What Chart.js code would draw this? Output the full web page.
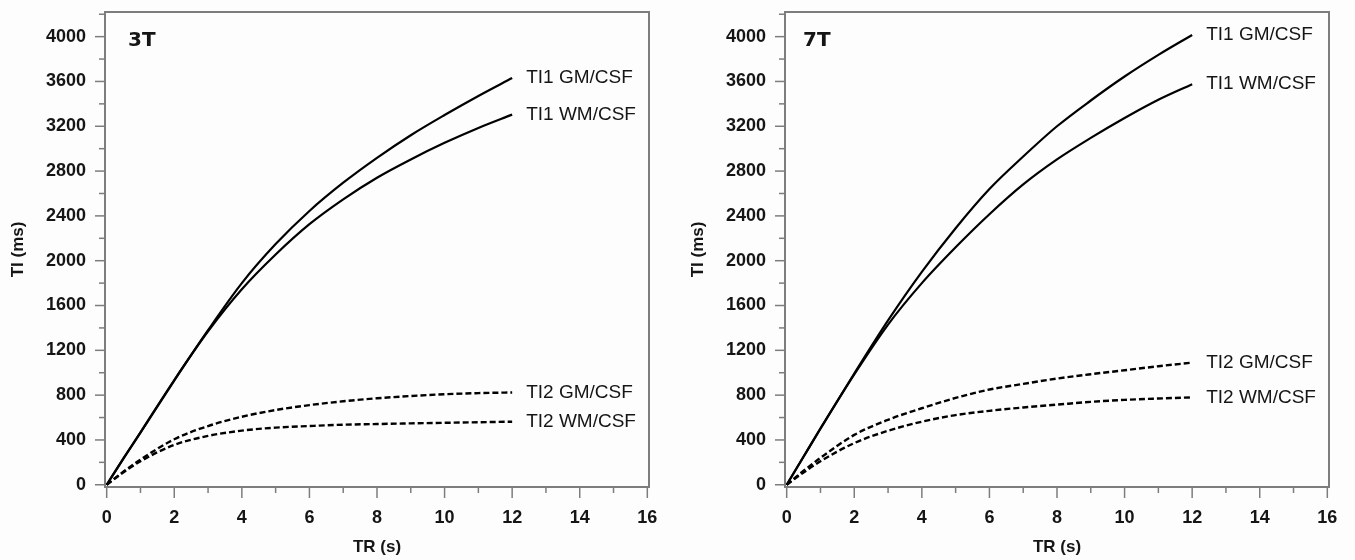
<!DOCTYPE html>
<html>
<head>
<meta charset="utf-8">
<script src="https://cdn.jsdelivr.net/npm/chart.js@4.4.0/dist/chart.umd.min.js"></script>
<style>
  body { margin: 0; background: #fff; }
  #wrap { position: relative; width: 1355px; height: 560px; background: #fdfdfd; }
  canvas { position: absolute; top: 0; }
</style>
</head>
<body>
<div id="wrap">
  <canvas id="chart3T" width="677" height="560" style="left:0"></canvas>
  <canvas id="chart7T" width="675" height="560" style="left:680px"></canvas>
</div>
<script>
// TR (s) sample points
const trValues = [0, 0.5, 1, 2, 3, 4, 5, 6, 7, 8, 9, 10, 11, 12];

// 3T curves, TI in ms
const ti1Gm3T = [0, 235, 465, 930, 1380, 1800, 2148, 2444, 2696, 2918, 3120, 3300, 3470, 3630];
const ti1Wm3T = [0, 238, 468, 935, 1370, 1745, 2055, 2326, 2548, 2741, 2904, 3052, 3185, 3304];
const ti2Gm3T = [0, 118, 225, 406, 524, 607, 667, 711, 745, 772, 792, 808, 818, 824];
const ti2Wm3T = [0, 112, 210, 356, 436, 483, 510, 524, 536, 542, 548, 553, 558, 563];

// 7T curves, TI in ms
const ti1Gm7T = [0, 252, 504, 993, 1467, 1900, 2290, 2640, 2930, 3200, 3430, 3644, 3837, 4015];
const ti1Wm7T = [0, 250, 500, 985, 1430, 1800, 2120, 2415, 2681, 2904, 3096, 3274, 3437, 3576];
const ti2Gm7T = [0, 125, 240, 445, 580, 683, 775, 850, 900, 948, 987, 1022, 1058, 1090];
const ti2Wm7T = [0, 110, 210, 372, 482, 563, 622, 660, 690, 715, 740, 758, 770, 780];

const seriesNames = ['TI1 GM/CSF', 'TI1 WM/CSF', 'TI2 GM/CSF', 'TI2 WM/CSF'];

// tick positions (every value gets a mark, labelled ones are the major ticks)
const xTickValues = [0, 1, 2, 3, 4, 5, 6, 7, 8, 9, 10, 11, 12, 13, 14, 15, 16];
const xTickLabels = ['0', '2', '4', '6', '8', '10', '12', '14', '16'];
const yTickValues = [0, 200, 400, 600, 800, 1000, 1200, 1400, 1600, 1800, 2000, 2200,
  2400, 2600, 2800, 3000, 3200, 3400, 3600, 3800, 4000, 4200];
const yTickLabels = ['0', '400', '800', '1200', '1600', '2000', '2400', '2800', '3200', '3600', '4000'];

const frameColor = '#7d7d7d';
const textColor = '#151515';
const font = '"Liberation Sans", Arial, sans-serif';

const isMajor = (labels, v) => labels.includes(String(v));

// frame + major/minor tick marks
const frameTicks = {
  id: 'frameTicks',
  afterDraw(chart) {
    const { ctx, chartArea: a, scales: { x, y } } = chart;
    ctx.save();
    ctx.strokeStyle = frameColor;
    ctx.lineWidth = 1.5;
    x.ticks.forEach(t => {
      const px = x.getPixelForValue(t.value);
      const len = isMajor(xTickLabels, t.value) ? 11 : 6;
      ctx.beginPath(); ctx.moveTo(px, a.bottom); ctx.lineTo(px, a.bottom + len); ctx.stroke();
    });
    y.ticks.forEach(t => {
      const py = y.getPixelForValue(t.value);
      const len = isMajor(yTickLabels, t.value) ? 10 : 6;
      ctx.beginPath(); ctx.moveTo(a.left, py); ctx.lineTo(a.left - len, py); ctx.stroke();
    });
    ctx.lineWidth = 2;
    ctx.strokeRect(a.left, a.top, a.right - a.left, a.bottom - a.top);
    ctx.restore();
  }
};

// curve names at the end of each line, plus panel tag
const endLabels = {
  id: 'endLabels',
  afterDatasetsDraw(chart, args, opts) {
    const { ctx, chartArea: a } = chart;
    ctx.save();
    ctx.fillStyle = textColor;
    ctx.textBaseline = 'middle';
    ctx.font = '19px ' + font;
    chart.data.datasets.forEach((ds, i) => {
      const pts = chart.getDatasetMeta(i).data;
      const last = pts[pts.length - 1];
      ctx.fillText(ds.label, last.x + 14, last.y);
    });
    ctx.font = 'bold 20px "DejaVu Sans", sans-serif';
    ctx.fillText(opts.tag, a.left + opts.tagDx, a.top + 29);
    ctx.restore();
  }
};

function makePanel(id, tag, tagDx, gm1, wm1, gm2, wm2, padRight) {
  const solid = { borderColor: '#000', borderWidth: 2.2, pointRadius: 0, cubicInterpolationMode: 'monotone', fill: false };
  const dashed = Object.assign({}, solid, { borderDash: [6, 3], borderWidth: 2.4 });
  return new Chart(document.getElementById(id), {
    type: 'line',
    data: {
      labels: trValues,
      datasets: [
        Object.assign({ label: seriesNames[0], data: gm1 }, solid),
        Object.assign({ label: seriesNames[1], data: wm1 }, solid),
        Object.assign({ label: seriesNames[2], data: gm2 }, dashed),
        Object.assign({ label: seriesNames[3], data: wm2 }, dashed)
      ]
    },
    options: {
      responsive: false,
      animation: false,
      devicePixelRatio: 1,
      layout: { padding: { top: 12, right: padRight, left: 0, bottom: 0 } },
      plugins: {
        legend: { display: false },
        tooltip: { enabled: false },
        endLabels: { tag: tag, tagDx: tagDx }
      },
      scales: {
        x: {
          type: 'linear',
          min: -0.05,
          max: 16.05,
          grid: { display: false },
          border: { display: false },
          afterBuildTicks: s => { s.ticks = xTickValues.map(v => ({ value: v })); },
          afterFit: s => { s.height = 73; s.paddingLeft = 0; s.paddingRight = 0; },
          ticks: {
            autoSkip: false,
            maxRotation: 0,
            padding: 12,
            color: textColor,
            font: { family: font, size: 18, weight: 'bold' },
            callback: v => isMajor(xTickLabels, v) ? String(v) : ''
          },
          title: {
            display: true,
            text: 'TR (s)',
            color: textColor,
            padding: { top: 0, bottom: 2 },
            font: { family: font, size: 17, weight: 'bold' }
          }
        },
        y: {
          min: -20,
          max: 4220,
          grid: { display: false },
          border: { display: false },
          afterBuildTicks: s => { s.ticks = yTickValues.map(v => ({ value: v })); },
          afterFit: s => { s.width = 105; s.paddingTop = 0; s.paddingBottom = 0; },
          ticks: {
            autoSkip: false,
            padding: 11,
            color: textColor,
            font: { family: font, size: 18, weight: 'bold' },
            callback: v => isMajor(yTickLabels, v) ? String(v) : ''
          },
          title: {
            display: true,
            text: 'TI (ms)',
            color: textColor,
            padding: { top: 8, bottom: 0 },
            font: { family: font, size: 17, weight: 'bold' }
          }
        }
      }
    },
    plugins: [frameTicks, endLabels]
  });
}

makePanel('chart3T', '3T', 23, ti1Gm3T, ti1Wm3T, ti2Gm3T, ti2Wm3T, 28);
makePanel('chart7T', '7T', 18, ti1Gm7T, ti1Wm7T, ti2Gm7T, ti2Wm7T, 26);
</script>
</body>
</html>
